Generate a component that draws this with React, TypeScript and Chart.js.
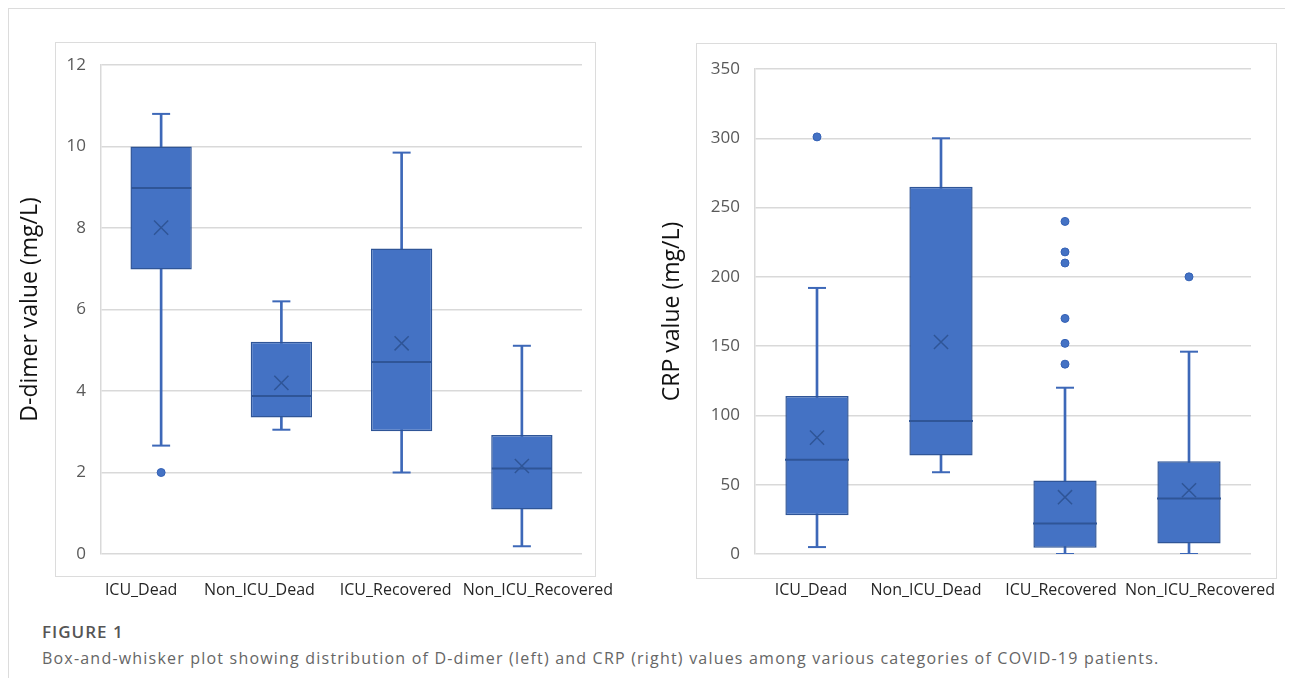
import React, { useEffect, useRef } from 'react';
import { Chart, registerables } from 'chart.js';

Chart.register(...registerables);

// ---------- Data ----------
const categories = ['ICU_Dead', 'Non_ICU_Dead', 'ICU_Recovered', 'Non_ICU_Recovered'];

// D-dimer (mg/L)
const ddMin = [2.66, 3.05, 2.0, 0.19];
const ddQ1 = [6.98, 3.35, 3.01, 1.09];
const ddMedian = [8.98, 3.88, 4.71, 2.1];
const ddQ3 = [10.0, 5.21, 7.5, 2.92];
const ddMax = [10.8, 6.2, 9.85, 5.11];
const ddMean = [8.01, 4.2, 5.17, 2.16];
const ddOutliers = [[2.0], [], [], []];
const ddTicks = { min: 0, max: 12, step: 2 };

// CRP (mg/L)
const crpMin = [5, 59, 0, 0];
const crpQ1 = [28, 71, 4.5, 7.5];
const crpMedian = [68, 96, 22, 40];
const crpQ3 = [114, 265, 53, 67];
const crpMax = [192, 300, 120, 146];
const crpMean = [84, 153, 41, 46];
const crpOutliers = [[301], [], [240, 218, 210, 170, 152, 137], [200]];
const crpTicks = { min: 0, max: 350, step: 50 };

// ---------- Styles ----------
const BOX_FILL = '#4472C4';
const BOX_EDGE = '#2F5597';
const WHISKER = '#3D68B8';
const GRID = '#d9d9d9';
const FONT = "'Open Sans', 'Noto Sans', sans-serif";

type Spec = {
  min: number[]; q1: number[]; median: number[]; q3: number[]; max: number[];
  mean: number[]; outliers: number[][];
  ticks: { min: number; max: number; step: number };
  title: string;
  medianRadius: number;
  yWidth: number;
  titlePadTop: number;
  labelShift: number[];
  layoutPad: { top: number; bottom: number; left: number; right: number };
};

const xLabelPlugin = {
  id: 'xLabels',
  afterDraw(chart: any, _args: any, opts: any) {
    const { ctx, chartArea } = chart;
    const xs = chart.scales.x;
    ctx.save();
    ctx.font = `16px ${FONT}`;
    ctx.fillStyle = '#262626';
    ctx.textAlign = 'center';
    ctx.textBaseline = 'middle';
    (xs.getLabels() as string[]).forEach((lab, i) => {
      ctx.fillText(lab, xs.getPixelForTick(i) + (opts.shift[i] || 0), chartArea.bottom + opts.gap);
    });
    ctx.restore();
  },
};

function buildConfig(s: Spec): any {
  const capPoints = [
    ...categories.map((c, i) => ({ x: c, y: s.min[i] })),
    ...categories.map((c, i) => ({ x: c, y: s.max[i] })),
  ];
  const outlierPoints: { x: string; y: number }[] = [];
  categories.forEach((c, i) => s.outliers[i].forEach((v) => outlierPoints.push({ x: c, y: v })));

  return {
    type: 'bar',
    plugins: [xLabelPlugin],
    data: {
      labels: categories,
      datasets: [
        {
          type: 'bar', label: 'whisker',
          data: categories.map((_, i) => [s.min[i], s.max[i]]),
          backgroundColor: WHISKER, borderWidth: 0, barThickness: 2, grouped: false, order: 6,
        },
        {
          type: 'bar', label: 'box',
          data: categories.map((_, i) => [s.q1[i], s.q3[i]]),
          backgroundColor: BOX_FILL, borderColor: BOX_EDGE, borderWidth: 1.5, borderSkipped: false,
          barPercentage: 0.51, categoryPercentage: 1, grouped: false, order: 5,
        },
        {
          type: 'line', label: 'median', data: s.median, showLine: false,
          pointStyle: 'line', pointRadius: s.medianRadius, pointBorderColor: BOX_EDGE,
          pointBorderWidth: 2, order: 4,
        },
        {
          type: 'line', label: 'caps', data: capPoints, showLine: false,
          pointStyle: 'line', pointRadius: 9, pointBorderColor: WHISKER, pointBorderWidth: 2, order: 3,
        },
        {
          type: 'line', label: 'mean', data: s.mean, showLine: false,
          pointStyle: 'crossRot', pointRadius: 10, pointBorderColor: BOX_EDGE, pointBorderWidth: 1.5, order: 2,
        },
        {
          type: 'line', label: 'outliers', data: outlierPoints, showLine: false,
          pointStyle: 'circle', pointRadius: 4, pointBackgroundColor: BOX_FILL,
          pointBorderColor: '#3461B5', pointBorderWidth: 1, order: 1,
        },
      ],
    },
    options: {
      animation: false,
      responsive: false,
      events: [],
      layout: { padding: s.layoutPad },
      plugins: {
        legend: { display: false },
        tooltip: { enabled: false },
        title: { display: false },
        xLabels: { shift: s.labelShift, gap: 36 },
      },
      scales: {
        x: {
          type: 'category',
          offset: true,
          grid: { display: false, drawTicks: false },
          border: { display: false },
          ticks: { display: false },
          afterFit: (scale: any) => {
            scale.paddingLeft = 0;
            scale.paddingRight = 0;
            scale.height = 46;
          },
        },
        y: {
          min: s.ticks.min, max: s.ticks.max,
          ticks: {
            stepSize: s.ticks.step, padding: 15, color: '#595959',
            font: { family: FONT, size: 17 },
          },
          grid: { color: GRID, lineWidth: 1.5, drawTicks: false },
          border: { display: true, color: GRID, width: 1.5 },
          title: {
            display: true, text: s.title, color: '#111111',
            font: { family: FONT, size: 23 },
            padding: { top: s.titlePadTop, bottom: 0 },
          },
          afterFit: (scale: any) => {
            scale.width = s.yWidth;
          },
        },
      },
    },
  };
}

function BoxChart({ spec, left, width, height }: { spec: Spec; left: number; width: number; height: number }) {
  const ref = useRef<HTMLCanvasElement>(null);
  useEffect(() => {
    const chart = new Chart(ref.current as HTMLCanvasElement, buildConfig(spec));
    return () => chart.destroy();
  }, []);
  return (
    <canvas
      ref={ref}
      width={width}
      height={height}
      style={{ position: 'absolute', left, top: 0, width, height }}
    />
  );
}

const leftSpec: Spec = {
  min: ddMin, q1: ddQ1, median: ddMedian, q3: ddQ3, max: ddMax, mean: ddMean, outliers: ddOutliers,
  ticks: ddTicks, title: 'D-dimer value (mg/L)', medianRadius: 30,
  yWidth: 93, titlePadTop: 9,
  labelShift: [-20, -22, -6, 16],
  layoutPad: { top: 57, bottom: 18, left: 0, right: 58 },
};

const rightSpec: Spec = {
  min: crpMin, q1: crpQ1, median: crpMedian, q3: crpQ3, max: crpMax, mean: crpMean, outliers: crpOutliers,
  ticks: crpTicks, title: 'CRP value (mg/L)', medianRadius: 32,
  yWidth: 115, titlePadTop: 19,
  labelShift: [-6, -15, -4, 11],
  layoutPad: { top: 61, bottom: 18, left: 0, right: 24 },
};

export default function App() {
  return (
    <div
      style={{
        position: 'relative', width: 1277, height: 670, borderTop: '1px solid #dcdcdc',
        borderLeft: '1px solid #dcdcdc', boxSizing: 'border-box', fontFamily: FONT,
      }}
    >
      <div style={{ position: 'absolute', left: 46, top: 33, width: 541, height: 535, border: '1px solid #dcdcdc', boxSizing: 'border-box' }} />
      <div style={{ position: 'absolute', left: 687, top: 34, width: 581, height: 536, border: '1px solid #dcdcdc', boxSizing: 'border-box' }} />
      <div style={{ position: 'absolute', left: -1, top: -1, width: 1277, height: 620 }}>
        <BoxChart spec={leftSpec} left={0} width={632} height={610} />
        <BoxChart spec={rightSpec} left={632} width={645} height={610} />
      </div>
      <div style={{ position: 'absolute', left: 33, top: 613, fontSize: 17, lineHeight: '20px', fontWeight: 600, letterSpacing: 1, color: '#555555' }}>
        FIGURE 1
      </div>
      <div style={{ position: 'absolute', left: 33, top: 639, fontSize: 16, lineHeight: '20px', letterSpacing: 1.2, color: '#666666', whiteSpace: 'nowrap' }}>
        Box-and-whisker plot showing distribution of D-dimer (left) and CRP (right) values among various categories of COVID-19 patients.
      </div>
    </div>
  );
}
